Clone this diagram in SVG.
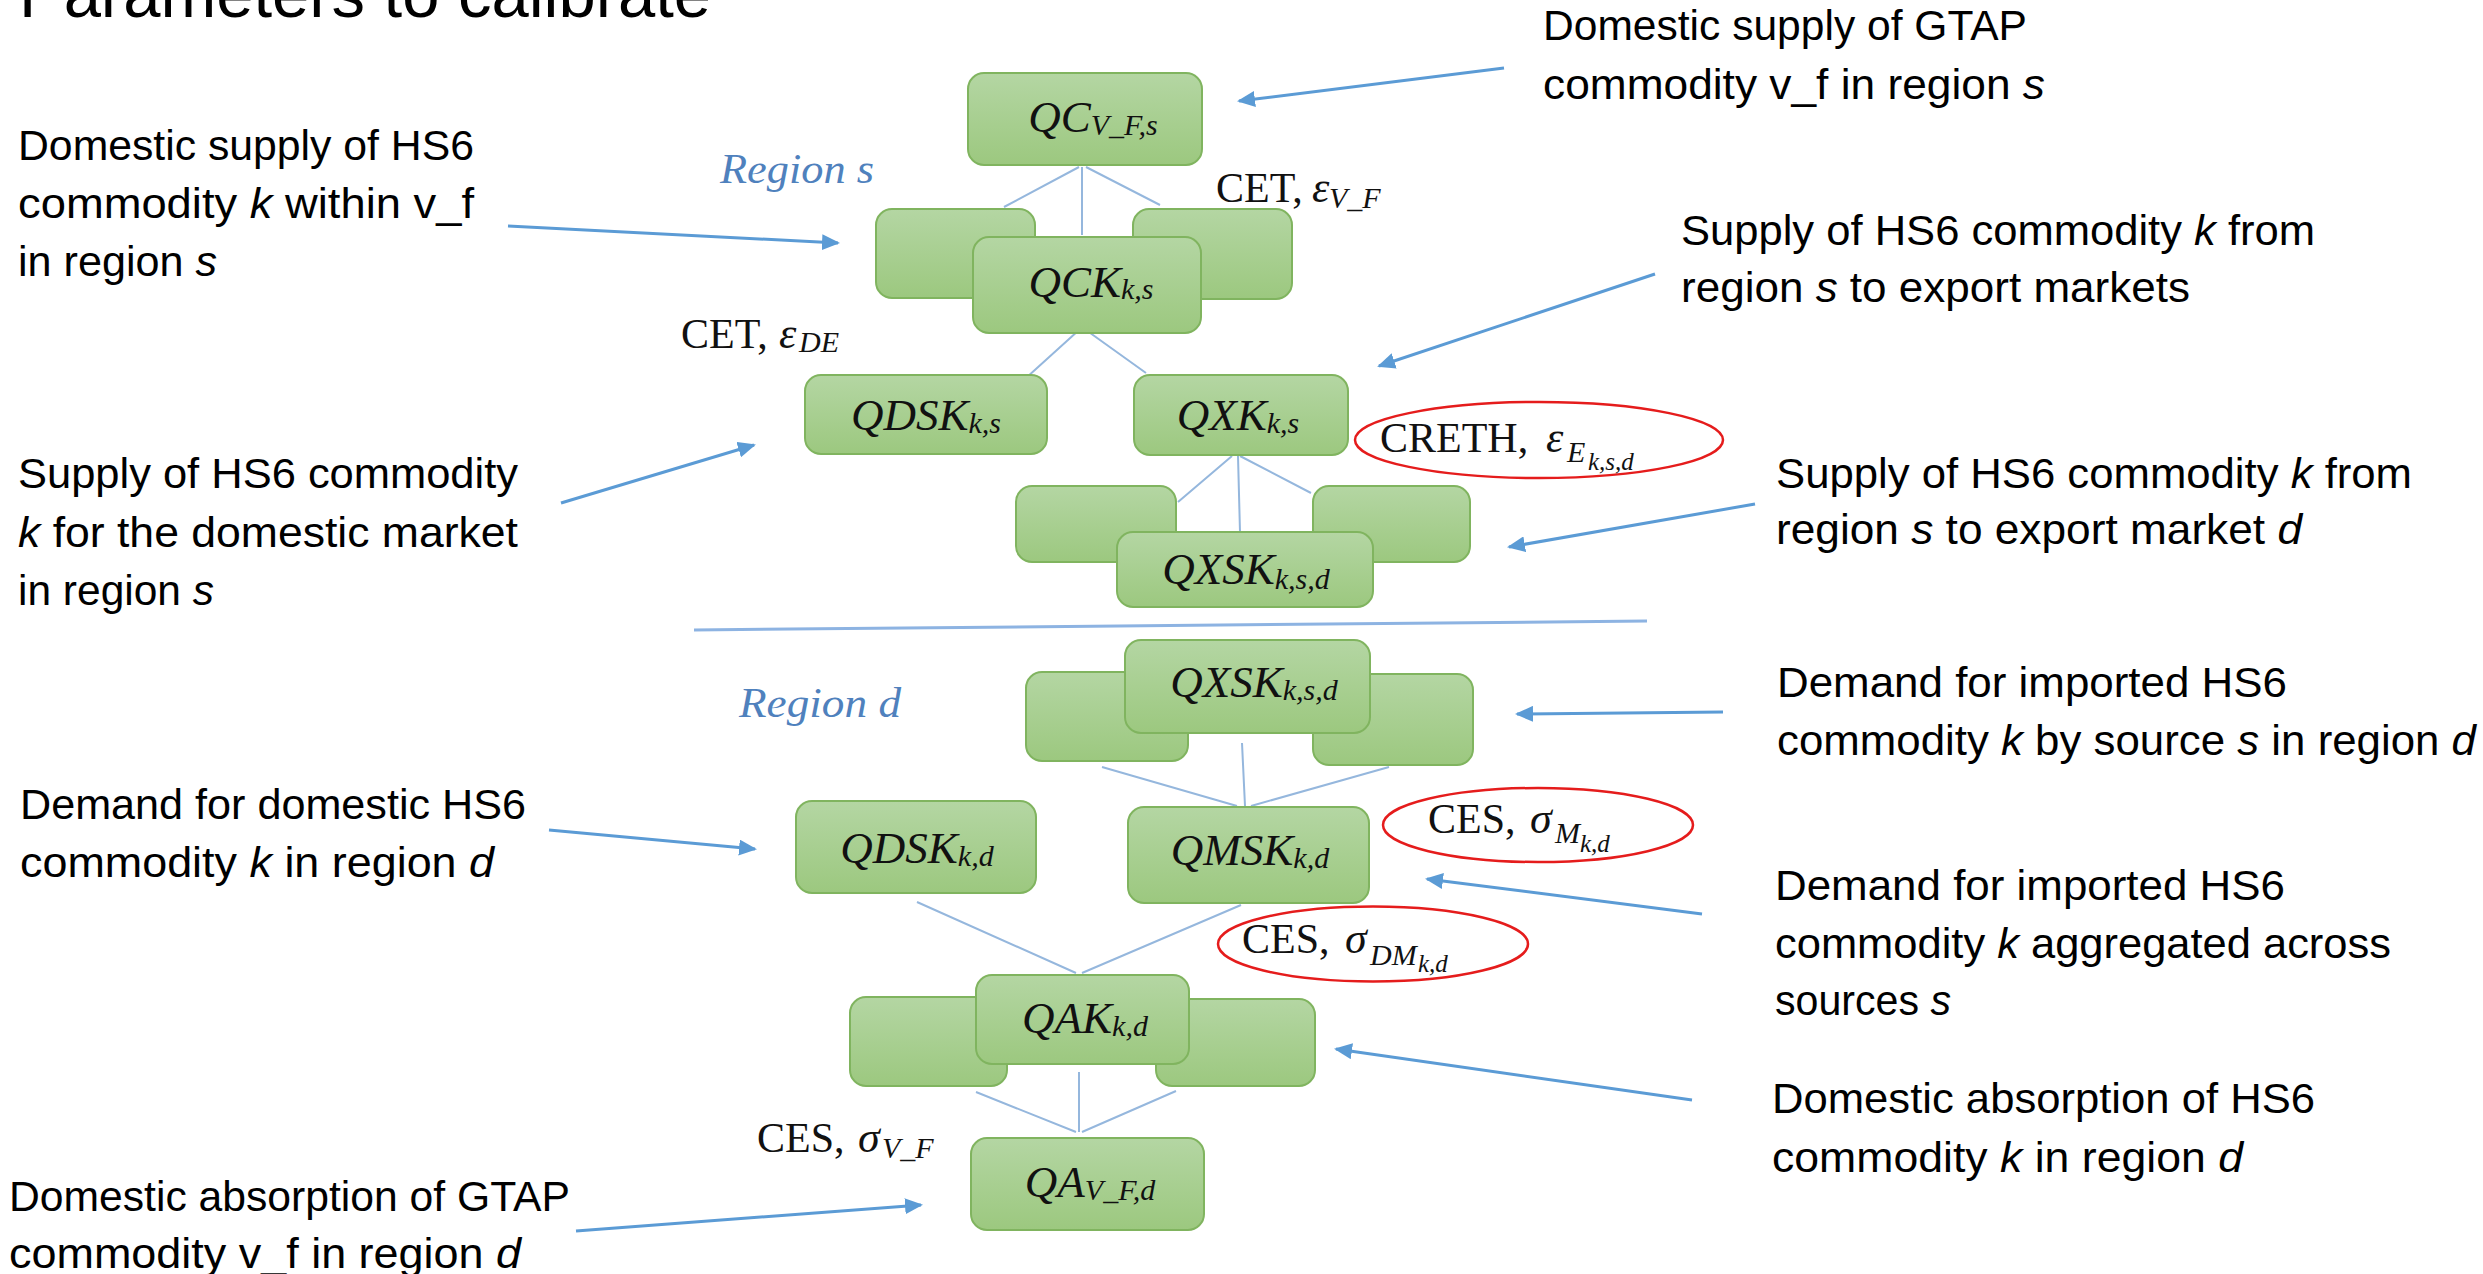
<svg xmlns="http://www.w3.org/2000/svg" width="2483" height="1274" viewBox="0 0 2483 1274">
<defs>
  <linearGradient id="grn" x1="0" y1="0" x2="0" y2="1">
    <stop offset="0" stop-color="#b4d6a3"/>
    <stop offset="1" stop-color="#9cc87f"/>
  </linearGradient>
  <marker id="ah" markerUnits="userSpaceOnUse" markerWidth="20" markerHeight="16" refX="16" refY="8" orient="auto">
    <path d="M0,0 L18,8 L0,16 z" fill="#5b9bd5"/>
  </marker>
  <style>
    .box{fill:url(#grn);stroke:#80b45f;stroke-width:2}
    .nl{font-family:"Liberation Serif","Times New Roman",serif;font-style:italic;font-size:45px;fill:#111;text-anchor:middle}
    .sub{font-size:30px}
    .t{font-family:"Liberation Sans",Arial,sans-serif;font-size:42px;fill:#000}
    .i{font-style:italic}
    .lab{font-family:"Liberation Serif","Times New Roman",serif;font-size:42px;fill:#111}
    .gk{font-style:italic;font-size:44px}
    .s1{font-size:30px;font-style:italic}
    .s2{font-size:25px;font-style:italic}
    .reg{font-family:"Liberation Serif","Times New Roman",serif;font-style:italic;font-size:42px;fill:#4f81bd}
    .tree{stroke:#95b7dd;stroke-width:2;fill:none}
    .call{stroke:#5b9bd5;stroke-width:3;fill:none;marker-end:url(#ah)}
    .ell{fill:none;stroke:#e51c1c;stroke-width:2.5}
  </style>
</defs>
<rect width="2483" height="1274" fill="#fff"/>

<text class="t" x="19" y="17" textLength="692" lengthAdjust="spacingAndGlyphs" style="font-size:66px">Parameters to calibrate</text>

<g id="connectors">
  <path class="tree" d="M1079,167 L1004,207 M1082,167 L1082,235 M1086,167 L1160,205"/>
  <path class="tree" d="M1079,330 L1026,378 M1086,330 L1146,373"/>
  <path class="tree" d="M1232,456 L1178,502 M1238,456 L1240,532 M1240,456 L1311,493"/>
  <path class="tree" d="M1102,767 L1237,806 M1242,743 L1245,806 M1389,767 L1251,806"/>
  <path class="tree" d="M917,902 L1076,973 M1241,905 L1082,973"/>
  <path class="tree" d="M976,1092 L1076,1132 M1079,1072 L1079,1132 M1176,1091 L1082,1132"/>
  <path d="M694,630 L1647,621" stroke="#8db3e2" stroke-width="3" fill="none"/>
</g>

<g id="node-qc">
  <rect class="box" x="968" y="73" width="234" height="92" rx="16"/>
  <text class="nl" x="1093" y="132">QC<tspan class="sub" dy="3">V_F,s</tspan></text>
</g>
<g id="node-qck">
  <rect class="box" x="876" y="209" width="159" height="89" rx="16"/>
  <rect class="box" x="1133" y="209" width="159" height="90" rx="16"/>
  <rect class="box" x="973" y="237" width="228" height="96" rx="16"/>
  <text class="nl" x="1091" y="297">QCK<tspan class="sub" dy="2">k,s</tspan></text>
</g>
<g id="node-qdsk-s">
  <rect class="box" x="805" y="375" width="242" height="79" rx="16"/>
  <text class="nl" x="926" y="430">QDSK<tspan class="sub" dy="3">k,s</tspan></text>
</g>
<g id="node-qxk">
  <rect class="box" x="1134" y="375" width="214" height="80" rx="16"/>
  <text class="nl" x="1238" y="430">QXK<tspan class="sub" dy="3">k,s</tspan></text>
</g>
<g id="node-qxsk-s">
  <rect class="box" x="1016" y="486" width="160" height="76" rx="16"/>
  <rect class="box" x="1313" y="486" width="157" height="76" rx="16"/>
  <rect class="box" x="1117" y="532" width="256" height="75" rx="16"/>
  <text class="nl" x="1246" y="584">QXSK<tspan class="sub" dy="5">k,s,d</tspan></text>
</g>
<g id="node-qxsk-d">
  <rect class="box" x="1026" y="672" width="162" height="89" rx="16"/>
  <rect class="box" x="1313" y="674" width="160" height="91" rx="16"/>
  <rect class="box" x="1125" y="640" width="245" height="93" rx="16"/>
  <text class="nl" x="1254" y="697">QXSK<tspan class="sub" dy="3">k,s,d</tspan></text>
</g>
<g id="node-qdsk-d">
  <rect class="box" x="796" y="801" width="240" height="92" rx="16"/>
  <text class="nl" x="917" y="863">QDSK<tspan class="sub" dy="3">k,d</tspan></text>
</g>
<g id="node-qmsk">
  <rect class="box" x="1128" y="807" width="241" height="96" rx="16"/>
  <text class="nl" x="1250" y="865">QMSK<tspan class="sub" dy="3">k,d</tspan></text>
</g>
<g id="node-qak">
  <rect class="box" x="850" y="997" width="157" height="89" rx="16"/>
  <rect class="box" x="1156" y="999" width="159" height="87" rx="16"/>
  <rect class="box" x="976" y="975" width="213" height="89" rx="16"/>
  <text class="nl" x="1085" y="1033">QAK<tspan class="sub" dy="3">k,d</tspan></text>
</g>
<g id="node-qa">
  <rect class="box" x="971" y="1138" width="233" height="92" rx="16"/>
  <text class="nl" x="1090" y="1197">QA<tspan class="sub" dy="3">V_F,d</tspan></text>
</g>

<g id="region-labels">
  <text class="reg" x="720" y="183" textLength="154" lengthAdjust="spacingAndGlyphs">Region s</text>
  <text class="reg" x="739" y="717" textLength="162" lengthAdjust="spacingAndGlyphs">Region d</text>
</g>

<g id="elasticities">
  <text class="lab" x="1216" y="202">CET, <tspan class="gk" x="1312">ε</tspan><tspan class="s1" x="1329" y="208">V_F</tspan></text>
  <text class="lab" x="681" y="348">CET, <tspan class="gk" x="779">ε</tspan><tspan class="s1" x="799" y="352">DE</tspan></text>
  <ellipse class="ell" cx="1539" cy="440" rx="184" ry="38"/>
  <text class="lab" x="1380" y="452">CRETH, <tspan class="gk" x="1546">ε</tspan><tspan class="s1" x="1567" y="462">E</tspan><tspan class="s2" x="1588" y="470">k,s,d</tspan></text>
  <ellipse class="ell" cx="1538" cy="825" rx="155" ry="37"/>
  <text class="lab" x="1428" y="833">CES, <tspan class="gk" x="1530">σ</tspan><tspan class="s1" x="1555" y="843">M</tspan><tspan class="s2" x="1580" y="852">k,d</tspan></text>
  <ellipse class="ell" cx="1373" cy="944" rx="155" ry="37.5"/>
  <text class="lab" x="1242" y="953">CES, <tspan class="gk" x="1345">σ</tspan><tspan class="s1" x="1370" y="965">DM</tspan><tspan class="s2" x="1418" y="972">k,d</tspan></text>
  <text class="lab" x="757" y="1152">CES, <tspan class="gk" x="858">σ</tspan><tspan class="s1" x="882" y="1158">V_F</tspan></text>
</g>

<g id="callout-arrows">
  <line class="call" x1="508" y1="226" x2="838" y2="243"/>
  <line class="call" x1="561" y1="503" x2="754" y2="445"/>
  <line class="call" x1="549" y1="830" x2="755" y2="849"/>
  <line class="call" x1="576" y1="1231" x2="921" y2="1205"/>
  <line class="call" x1="1504" y1="68" x2="1239" y2="101"/>
  <line class="call" x1="1655" y1="274" x2="1379" y2="366"/>
  <line class="call" x1="1755" y1="504" x2="1509" y2="547"/>
  <line class="call" x1="1723" y1="712" x2="1517" y2="714"/>
  <line class="call" x1="1702" y1="914" x2="1427" y2="879"/>
  <line class="call" x1="1692" y1="1100" x2="1336" y2="1049"/>
</g>

<g id="descriptions">
  <text class="t" x="18" y="160" textLength="456" lengthAdjust="spacingAndGlyphs">Domestic supply of HS6</text>
  <text class="t" x="18" y="218" textLength="456" lengthAdjust="spacingAndGlyphs">commodity <tspan class="i">k</tspan> within v_f</text>
  <text class="t" x="18" y="276" textLength="199" lengthAdjust="spacingAndGlyphs">in region <tspan class="i">s</tspan></text>

  <text class="t" x="18" y="488" textLength="500" lengthAdjust="spacingAndGlyphs">Supply of HS6 commodity</text>
  <text class="t" x="18" y="547" textLength="500" lengthAdjust="spacingAndGlyphs"><tspan class="i">k</tspan> for the domestic market</text>
  <text class="t" x="18" y="605" textLength="196" lengthAdjust="spacingAndGlyphs">in region <tspan class="i">s</tspan></text>

  <text class="t" x="20" y="819" textLength="506" lengthAdjust="spacingAndGlyphs">Demand for domestic HS6</text>
  <text class="t" x="20" y="877" textLength="474" lengthAdjust="spacingAndGlyphs">commodity <tspan class="i">k</tspan> in region <tspan class="i">d</tspan></text>

  <text class="t" x="9" y="1211" textLength="561" lengthAdjust="spacingAndGlyphs">Domestic absorption of GTAP</text>
  <text class="t" x="9" y="1268" textLength="512" lengthAdjust="spacingAndGlyphs">commodity v_f in region <tspan class="i">d</tspan></text>

  <text class="t" x="1543" y="40" textLength="484" lengthAdjust="spacingAndGlyphs">Domestic supply of GTAP</text>
  <text class="t" x="1543" y="99" textLength="502" lengthAdjust="spacingAndGlyphs">commodity v_f in region <tspan class="i">s</tspan></text>

  <text class="t" x="1681" y="245" textLength="634" lengthAdjust="spacingAndGlyphs">Supply of HS6 commodity <tspan class="i">k</tspan> from</text>
  <text class="t" x="1681" y="302" textLength="509" lengthAdjust="spacingAndGlyphs">region <tspan class="i">s</tspan> to export markets</text>

  <text class="t" x="1776" y="488" textLength="636" lengthAdjust="spacingAndGlyphs">Supply of HS6 commodity <tspan class="i">k</tspan> from</text>
  <text class="t" x="1776" y="544" textLength="526" lengthAdjust="spacingAndGlyphs">region <tspan class="i">s</tspan> to export market <tspan class="i">d</tspan></text>

  <text class="t" x="1777" y="697" textLength="510" lengthAdjust="spacingAndGlyphs">Demand for imported HS6</text>
  <text class="t" x="1777" y="755" textLength="699" lengthAdjust="spacingAndGlyphs">commodity <tspan class="i">k</tspan> by source <tspan class="i">s</tspan> in region <tspan class="i">d</tspan></text>

  <text class="t" x="1775" y="900" textLength="510" lengthAdjust="spacingAndGlyphs">Demand for imported HS6</text>
  <text class="t" x="1775" y="958" textLength="616" lengthAdjust="spacingAndGlyphs">commodity <tspan class="i">k</tspan> aggregated across</text>
  <text class="t" x="1775" y="1015" textLength="176" lengthAdjust="spacingAndGlyphs">sources <tspan class="i">s</tspan></text>

  <text class="t" x="1772" y="1113" textLength="543" lengthAdjust="spacingAndGlyphs">Domestic absorption of HS6</text>
  <text class="t" x="1772" y="1172" textLength="471" lengthAdjust="spacingAndGlyphs">commodity <tspan class="i">k</tspan> in region <tspan class="i">d</tspan></text>
</g>
</svg>
